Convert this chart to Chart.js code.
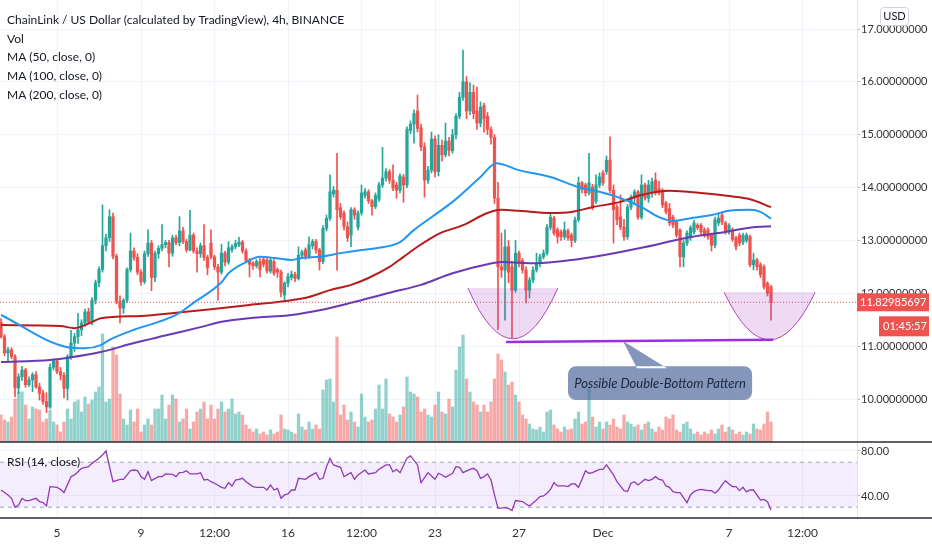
<!DOCTYPE html>
<html>
<head>
<meta charset="utf-8">
<script src="https://cdn.jsdelivr.net/npm/chart.js@4.4.0/dist/chart.umd.min.js"></script>
<style>
  html, body { margin: 0; padding: 0; background: #fff; }
  #wrap { width: 932px; height: 550px; position: relative; }
</style>
</head>
<body>
<div id="wrap"><canvas id="chart"></canvas></div>
<script>
// 4h candles, LINK/USD (index 0 = Nov 2 08:00)
const open = [
  11.45,11.18,10.87,10.93,10.80,10.21,10.42,10.55,10.27,10.36,
  10.46,10.23,10.11,9.95,9.85,10.60,10.72,10.52,10.45,10.20,
  10.80,11.06,11.18,11.31,11.44,11.65,11.46,11.87,12.20,12.45,
  12.90,13.05,13.45,12.70,11.85,11.72,11.87,12.45,12.80,12.68,
  12.40,12.22,12.75,12.95,12.30,12.75,12.85,12.92,12.96,12.76,
  13.05,12.96,13.18,12.98,12.82,13.10,12.80,12.75,12.90,12.68,
  12.95,12.69,12.50,12.40,12.76,12.59,12.82,12.88,12.92,12.97,
  12.80,12.62,12.57,12.52,12.60,12.64,12.63,12.42,12.60,12.45,
  12.40,11.97,12.19,12.30,12.36,12.28,12.72,12.82,12.70,12.90,
  12.98,12.82,12.60,13.23,13.42,13.88,13.95,13.62,13.52,13.26,
  13.10,13.58,13.25,13.52,13.85,13.92,13.75,13.64,13.78,14.05,
  14.18,14.30,14.14,14.05,13.95,14.20,14.05,15.08,15.20,15.45,
  15.13,14.77,14.14,14.33,14.92,14.30,14.80,14.62,14.88,14.70,
  15.00,15.35,15.71,16.00,15.45,15.80,15.45,15.22,15.55,15.35,
  15.10,14.95,13.80,12.50,12.44,12.88,12.50,12.06,12.76,12.62,
  12.44,12.06,12.25,12.44,12.57,12.69,12.76,13.25,13.42,13.20,
  13.16,13.07,13.18,13.10,13.00,13.39,14.09,14.05,13.90,14.01,
  13.74,14.05,14.28,
  14.30,14.52,13.95,13.63,13.45,13.25,13.07,13.63,13.80,13.92,
  13.44,14.05,13.80,13.90,14.14,13.98,13.95,13.71,13.60,13.44,
  13.35,13.20,12.69,12.95,13.05,13.16,13.29,13.29,13.20,13.20,
  13.10,12.91,13.33,13.48,13.33,13.16,13.20,13.05,13.10,12.97,
  13.00,13.07,12.54,12.63,12.54,12.50,12.19,12.12
];
const high = [
  11.52,11.22,10.98,10.97,10.84,10.48,10.62,10.58,10.42,10.50,
  10.52,10.30,10.17,10.12,10.66,10.76,10.75,10.60,10.50,10.84,
  11.30,11.24,11.62,11.50,11.70,11.72,11.92,12.25,12.50,13.67,
  13.12,13.58,13.52,12.74,11.95,11.90,12.48,13.14,12.86,12.75,
  12.45,12.80,13.20,13.00,12.80,12.90,13.30,13.00,13.00,13.10,
  13.10,13.45,13.25,13.02,13.57,13.14,12.86,12.95,13.30,12.72,
  13.20,12.72,12.55,12.93,12.80,12.98,12.92,13.00,13.06,13.00,
  12.84,12.66,12.60,12.64,12.66,12.68,12.66,12.66,12.64,12.48,
  12.44,12.22,12.38,12.42,12.40,12.88,12.82,12.86,13.07,13.02,
  13.02,12.85,13.28,13.48,14.24,14.02,14.65,13.70,13.56,13.35,
  13.62,13.62,13.56,14.05,13.98,13.96,13.78,13.90,14.10,14.76,
  14.36,14.34,14.43,14.10,14.26,14.25,15.15,15.26,15.47,15.75,
  15.20,14.85,14.40,15.05,14.98,15.00,14.90,15.22,14.95,15.10,
  15.40,15.80,16.60,16.10,15.98,15.94,15.90,15.62,15.60,15.42,
  15.15,15.00,14.10,13.14,13.20,13.00,12.60,13.00,12.80,12.66,
  12.50,12.30,12.50,12.76,12.74,12.82,13.30,13.50,13.46,13.24,
  13.20,13.35,13.22,13.14,13.44,14.20,14.12,14.08,14.65,14.06,
  14.24,14.28,14.32,
  14.60,14.96,14.05,13.68,13.86,13.40,13.68,13.86,13.96,13.95,
  14.24,14.08,14.14,14.18,14.28,14.12,13.98,13.74,13.70,13.48,
  13.38,13.22,13.00,13.18,13.28,13.38,13.32,13.32,13.24,13.24,
  13.14,13.44,13.52,13.52,13.36,13.32,13.24,13.08,13.14,13.14,
  13.14,13.10,12.76,12.66,12.58,12.54,12.22,12.15
];
const low = [
  11.15,10.82,10.72,10.76,10.04,10.10,10.35,10.22,10.24,10.14,
  10.20,9.98,9.90,9.74,9.82,10.55,10.48,10.36,10.02,9.98,
  10.75,10.90,11.05,11.20,11.38,11.42,11.40,11.80,12.12,12.40,
  12.80,12.98,12.65,11.80,11.44,11.62,11.82,12.40,12.62,12.35,
  12.15,12.18,12.70,12.05,12.22,12.66,12.80,12.86,12.50,12.70,
  12.92,12.90,12.94,12.78,12.80,12.76,12.40,12.68,12.62,12.35,
  12.65,12.45,11.87,12.36,12.52,12.55,12.78,12.84,12.88,12.76,
  12.58,12.31,12.45,12.48,12.31,12.50,12.38,12.38,12.34,12.30,
  11.93,11.84,12.12,12.25,12.22,12.25,12.66,12.64,12.66,12.84,
  12.76,12.44,12.56,13.18,13.38,13.82,12.44,13.40,13.20,12.98,
  12.88,13.40,13.20,13.48,13.80,13.70,13.48,13.60,13.74,14.00,
  14.12,14.08,13.94,13.80,13.90,13.72,14.00,15.02,14.84,15.05,
  14.70,13.82,14.08,14.28,14.20,14.22,14.50,14.58,14.60,14.65,
  14.92,15.30,15.65,15.30,15.38,15.30,15.10,15.15,15.05,15.00,
  14.82,13.70,11.31,12.30,11.49,12.20,11.15,12.02,12.50,12.38,
  11.82,11.91,12.20,12.40,12.50,12.65,12.72,13.20,13.10,12.95,
  13.00,13.02,13.00,12.88,12.96,13.35,13.90,13.84,13.86,13.58,
  13.70,14.00,14.04,
  14.25,13.90,12.95,13.30,13.20,13.00,13.02,13.58,13.68,13.40,
  13.40,13.76,13.72,13.82,13.86,13.86,13.62,13.50,13.28,13.24,
  13.06,12.50,12.50,12.90,13.00,13.12,13.20,13.12,13.06,13.02,
  12.80,12.86,13.28,13.30,13.12,13.12,12.98,12.82,12.90,12.92,
  12.96,12.50,12.44,12.44,12.30,12.08,11.95,11.49
];
const close = [
  11.18,10.87,10.93,10.80,10.21,10.42,10.55,10.27,10.36,10.46,
  10.23,10.11,9.95,9.85,10.60,10.72,10.52,10.45,10.20,10.80,
  11.06,11.18,11.31,11.44,11.65,11.46,11.87,12.20,12.45,12.90,
  13.05,13.45,12.70,11.85,11.72,11.87,12.45,12.80,12.68,12.40,
  12.22,12.75,12.95,12.30,12.75,12.85,12.92,12.96,12.76,13.05,
  12.96,13.18,12.98,12.82,13.10,12.80,12.75,12.90,12.68,12.48,
  12.69,12.50,12.40,12.76,12.59,12.86,12.88,12.94,12.97,12.80,
  12.62,12.55,12.52,12.60,12.45,12.55,12.42,12.63,12.38,12.40,
  12.02,12.19,12.32,12.36,12.28,12.72,12.78,12.70,12.92,12.98,
  12.82,12.60,13.23,13.42,13.92,13.95,13.58,13.45,13.26,13.05,
  13.58,13.48,13.52,13.90,13.92,13.75,13.64,13.85,14.05,14.18,
  14.30,14.14,13.99,13.95,14.22,14.05,15.10,15.20,15.40,15.12,
  14.77,14.14,14.33,14.92,14.30,14.80,14.62,14.88,14.70,15.00,
  15.35,15.71,16.00,15.45,15.80,15.40,15.22,15.52,15.30,15.10,
  14.95,13.80,12.50,12.44,12.88,12.40,12.06,12.76,12.57,12.44,
  12.06,12.25,12.44,12.57,12.69,12.76,13.25,13.44,13.14,13.07,
  13.07,13.20,13.05,13.00,13.39,14.09,13.96,13.90,14.09,13.63,
  14.05,14.20,14.09,
  14.52,13.95,13.58,13.39,13.25,13.07,13.63,13.82,13.92,13.44,
  14.05,13.80,14.05,14.11,13.90,13.90,13.67,13.54,13.33,13.29,
  13.10,12.69,12.95,13.14,13.24,13.33,13.24,13.16,13.10,13.07,
  12.91,13.39,13.42,13.35,13.16,13.29,13.02,12.88,12.95,13.10,
  13.10,12.54,12.63,12.50,12.35,12.12,12.00,11.82985697
];
// volume, thousands of LINK
const volume = [
  270,220,200,250,430,500,500,370,230,350, 330,320,200,230,320,200,170,100,200,330,
  230,400,420,300,450,380,420,500,550,1080, 400,430,950,870,480,230,170,320,200,330,
  100,170,230,170,330,330,470,230,370,470, 430,200,230,330,130,200,300,330,400,230,
  370,230,330,400,300,330,430,280,300,270, 170,130,100,130,80,100,70,120,80,100,
  270,130,120,100,80,280,150,120,200,130, 170,130,520,620,630,400,1050,270,370,220,
  300,200,150,480,250,200,220,330,570,330, 630,280,250,200,270,350,650,500,480,450,
  300,330,270,250,370,500,300,280,430,350, 720,950,1070,630,500,400,370,300,370,300,
  400,630,880,820,700,570,600,470,400,270, 230,180,130,120,150,100,300,320,170,130,
  100,150,120,130,230,300,180,200,550,250, 150,200,130,
  200,170,230,150,130,270,200,180,150,170, 120,180,200,130,100,150,120,250,230,270,
  120,100,180,200,130,80,100,70,100,80, 120,80,130,170,100,150,120,80,100,70,
  100,80,180,130,120,180,300,200
];

// moving averages (candle index, price)
const ma50Idx = [0,19,24,28.5,31,38,45,50,55,63,65,70,74,78,83,86,91,97,103,108,114,118,123,129,137,141.5,148,157,165,171,177,183,188,192,197,203,208,214,217,220];
const ma50 = [11.59,10.98,10.96,11.02,11.12,11.31,11.46,11.59,11.82,12.21,12.38,12.59,12.69,12.67,12.63,12.67,12.69,12.76,12.82,12.86,12.97,13.20,13.44,13.73,14.20,14.46,14.33,14.20,14.01,13.92,13.80,13.63,13.44,13.37,13.42,13.48,13.56,13.58,13.54,13.41];
const ma100Idx = [0,17,21,25.5,28.5,40,50,60,71,83,88,94,100,105,111,115,119,123,125.5,132,139,143,148,157,163,169,177,183,191,200,208,214,220];
const ma100 = [11.40,11.38,11.34,11.44,11.53,11.57,11.63,11.70,11.78,11.87,11.93,12.06,12.16,12.29,12.50,12.69,12.88,13.05,13.14,13.29,13.52,13.58,13.56,13.52,13.54,13.63,13.73,13.86,13.94,13.90,13.84,13.78,13.63];
const ma200Idx = [0,14,20,28.5,38,47.5,57,63,71,83,91,100,111,120,129,139,143,153,163,172,183,196,205,215,220];
const ma200 = [10.70,10.74,10.79,10.89,11.06,11.21,11.36,11.46,11.53,11.59,11.68,11.82,12.01,12.16,12.38,12.55,12.59,12.57,12.63,12.72,12.86,13.05,13.14,13.25,13.27];

// RSI (14)
const rsiIdx = [0,2,3,4,5,6,7,8,10,11,12,13,14,16,17,18,20,21,22,23,25,26,28,29,30,31,32,34,35,37,38,39,40,41,42,43,45,46,47,49,50,51,52,53,54,56,57,58,59,60,61,63,64,65,66,67,68,69,70,72,73,75,76,77,78,79,80,81,82,83,84,85,87,88,90,91,92,93,94,95,97,98,100,101,102,104,105,107,108,110,111,112,113,114,116,117,119,120,122,
  124,125,126,127,129,130,131,132,134,135,136,137,138,139,140,141,142,144,145,146,147,149,150,151,153,154,155,156,157,158,159,161,162,163,164,165,166,167,168,169,171,172,173,174,175,176,178,179,180,181,182,184,185,186,187,188,189,190,191,192,193,194,196,197,198,199,200,202,203,204,205,206,207,208,209,210,211,212,213,214,215,217,218,219,220];
const rsi = [45.3,40.9,37.9,29.9,32.0,37.9,35.9,35.9,37.9,35.0,34.1,31.1,48.3,47.7,45.9,43.0,57.2,58.7,61.6,64.6,66.1,69.0,73.5,76.4,80.0,66.1,52.7,54.8,54.8,62.5,63.1,62.5,57.2,54.8,61.6,53.6,57.2,57.2,59.6,59.3,57.2,60.7,61.0,62.5,59.6,59.6,60.7,54.2,54.8,52.7,51.3,47.7,46.8,51.9,48.9,54.2,54.8,55.7,52.7,48.3,47.7,47.7,45.3,49.8,45.3,46.8,37.9,40.9,41.8,45.3,45.3,55.7,54.8,57.2,60.7,54.8,55.7,66.1,73.5,67.6,65.5,57.2,60.7,54.8,58.7,63.1,59.6,60.7,63.7,67.6,67.6,61.6,63.7,60.7,73.5,75.6,67.6,51.9,60.7,
  54.8,60.2,58.7,56.6,60.2,66.1,65.5,60.7,63.7,64.6,62.5,55.7,57.2,59.6,54.2,40.9,29.0,29.6,29.0,27.0,35.9,35.0,32.9,31.1,36.4,39.4,40.0,42.4,45.9,51.9,48.9,48.9,48.3,50.7,50.7,47.7,54.8,62.5,60.2,60.7,63.7,63.7,67.6,63.1,58.7,52.7,44.7,43.9,51.3,52.7,49.8,54.8,53.6,54.8,57.2,54.8,54.2,48.9,47.7,43.9,43.0,43.0,34.1,40.9,43.9,45.3,45.9,44.7,44.7,42.4,45.3,49.8,53.6,50.7,48.3,48.3,44.7,47.7,43.6,45.3,45.3,36.4,37.0,34.9,27.6];

const priceTicks = [10, 11, 12, 13, 14, 15, 16, 17];
const rsiTicks = [40, 80];
const rsiBand = [30, 70];
const timeTickIdx = [16, 40, 61, 82, 103, 124, 148, 172, 208, 229];
const timeTickLabels = ['5', '9', '12:00', '16', '12:00', '23', '27', 'Dec', '7', '12:00'];

const legendLines = ['ChainLink / US Dollar (calculated by TradingView), 4h, BINANCE', 'Vol', 'MA (50, close, 0)', 'MA (100, close, 0)', 'MA (200, close, 0)'];

// drawings, in (candle index, price)
const bowls = [
  { from: 133.4, mid: 146.3, to: 159.1, top: 12.10, bottom: 11.14 },
  { from: 206.6, mid: 219.6, to: 232.6, top: 12.02, bottom: 11.12 }
];
const support = { from: [144.3, 11.08], to: [220.6, 11.12] };
const note = { text: 'Possible Double-Bottom Pattern', from: 162.0, to: 214.6, top: 10.62, bottom: 9.98, tip: [177.7, 11.10], base: [181.7, 190.3] };

const UP = '#26a69a', DOWN = '#ef5350';
const isUp = close.map((c, i) => c >= open[i]);
const candleColor = isUp.map(u => u ? UP : DOWN);
const volColor = isUp.map(u => u ? 'rgba(38,166,154,0.5)' : 'rgba(239,83,80,0.5)');
const pts = (xs, ys) => xs.map((x, k) => ({ x: x, y: ys[k] }));

Chart.defaults.font.family = 'Lato, "Open Sans", sans-serif';

const overlay = {
  id: 'overlay',
  beforeDatasetsDraw(chart) {
    const { ctx, chartArea: a, scales: { yRsi } } = chart;
    const t = yRsi.getPixelForValue(rsiBand[1]), b = yRsi.getPixelForValue(rsiBand[0]);
    ctx.save();
    ctx.fillStyle = 'rgba(149,76,233,0.1)';
    ctx.fillRect(a.left, t, a.right - a.left, b - t);
    ctx.setLineDash([4, 4]);
    ctx.strokeStyle = '#a3a6af';
    ctx.lineWidth = 1;
    [t, b].forEach(y => {
      ctx.beginPath(); ctx.moveTo(a.left, y); ctx.lineTo(a.right, y); ctx.stroke();
    });
    ctx.restore();
  },
  afterDraw(chart) {
    const { ctx, chartArea: a, scales: { x, y } } = chart;
    const px = v => x.getPixelForValue(v), py = v => y.getPixelForValue(v);
    ctx.save();

    // pane borders
    ctx.strokeStyle = '#2a2e39';
    ctx.lineWidth = 1.5;
    [y.bottom, a.bottom].forEach(v => {
      ctx.beginPath(); ctx.moveTo(0, v); ctx.lineTo(chart.width, v); ctx.stroke();
    });

    // last price line
    const last = close[close.length - 1];
    const ly = py(last);
    ctx.setLineDash([1, 2]);
    ctx.strokeStyle = DOWN;
    ctx.lineWidth = 1;
    ctx.beginPath(); ctx.moveTo(a.left, ly); ctx.lineTo(a.right, ly); ctx.stroke();
    ctx.setLineDash([]);

    // bowls
    bowls.forEach(b => {
      const t = py(b.top), btm = py(b.bottom);
      ctx.beginPath();
      ctx.moveTo(px(b.from), t);
      ctx.quadraticCurveTo(px(b.mid), 2 * btm - t, px(b.to), t);
      ctx.fillStyle = 'rgba(171,71,188,0.2)';
      ctx.fill();
      ctx.strokeStyle = '#ab47bc';
      ctx.lineWidth = 1;
      ctx.stroke();
    });

    // support line
    ctx.strokeStyle = '#9d2ee0';
    ctx.lineWidth = 2.5;
    ctx.beginPath();
    ctx.moveTo(px(support.from[0]), py(support.from[1]));
    ctx.lineTo(px(support.to[0]), py(support.to[1]));
    ctx.stroke();

    // callout
    const bx0 = px(note.from), bx1 = px(note.to), by0 = py(note.top), by1 = py(note.bottom);
    ctx.beginPath();
    ctx.moveTo(px(note.tip[0]), py(note.tip[1]));
    ctx.lineTo(px(note.base[0]), by0 + 2);
    ctx.lineTo(px(note.base[1]), by0 + 2);
    ctx.closePath();
    ctx.roundRect(bx0, by0, bx1 - bx0, by1 - by0, 8);
    ctx.fillStyle = 'rgba(84,110,160,0.72)';
    ctx.fill();
    ctx.font = 'italic 13px Lato';
    ctx.fillStyle = '#1b2640';
    ctx.textAlign = 'center';
    ctx.textBaseline = 'middle';
    ctx.fillText(note.text, (bx0 + bx1) / 2, (by0 + by1) / 2 + 1);

    // legend
    ctx.textAlign = 'left';
    ctx.fillStyle = '#131722';
    ctx.font = '12px Lato';
    legendLines.forEach((s, k) => ctx.fillText(s, 7, a.top + 20 + k * 18.75));
    ctx.fillText('RSI (14, close)', 7, y.bottom + 20);

    // price axis labels
    ctx.fillStyle = DOWN;
    ctx.fillRect(a.right, ly - 9, 72, 18);
    ctx.fillRect(a.right + 22, ly + 14, 50, 20);
    ctx.fillStyle = '#ffffff';
    ctx.font = '11px Lato';
    ctx.fillText(last.toFixed(8), a.right + 3, ly);
    ctx.fillText('01:45:57', a.right + 26, ly + 24);

    // currency badge
    ctx.strokeStyle = '#d1d4dc';
    ctx.lineWidth = 1;
    ctx.fillStyle = '#ffffff';
    ctx.beginPath();
    ctx.roundRect(880.5, 7.5, 28, 18, 3);
    ctx.fill();
    ctx.stroke();
    ctx.fillStyle = '#131722';
    ctx.font = '11px Lato';
    ctx.textAlign = 'center';
    ctx.fillText('USD', 894.5, 16.5);
    ctx.restore();
  }
};

const tickFont = { size: 11 };
new Chart('chart', {
  type: 'bar',
  data: {
    datasets: [
      { type: 'line', label: 'MA 50', data: pts(ma50Idx, ma50), borderColor: '#2196f3', borderWidth: 2, pointRadius: 0, cubicInterpolationMode: 'monotone', yAxisID: 'y', order: 1 },
      { type: 'line', label: 'MA 100', data: pts(ma100Idx, ma100), borderColor: '#b71c1c', borderWidth: 2, pointRadius: 0, cubicInterpolationMode: 'monotone', yAxisID: 'y', order: 1 },
      { type: 'line', label: 'MA 200', data: pts(ma200Idx, ma200), borderColor: '#673ab7', borderWidth: 2, pointRadius: 0, cubicInterpolationMode: 'monotone', yAxisID: 'y', order: 1 },
      { label: 'wick', data: close.map((c, i) => ({ x: i, y: [low[i], high[i]] })), backgroundColor: candleColor, barThickness: 1, grouped: false, yAxisID: 'y', order: 3 },
      { label: 'body', data: close.map((c, i) => ({ x: i, y: [open[i], c] })), backgroundColor: candleColor, barThickness: 2.6, minBarLength: 1, grouped: false, yAxisID: 'y', order: 2 },
      { label: 'Vol', data: volume.map((v, i) => ({ x: i, y: v })), backgroundColor: volColor, barThickness: 2.6, grouped: false, yAxisID: 'yVol', order: 5 },
      { type: 'line', label: 'RSI', data: pts(rsiIdx, rsi), borderColor: '#9339b5', borderWidth: 1.3, pointRadius: 0, tension: 0, yAxisID: 'yRsi', order: 1 }
    ]
  },
  options: {
    responsive: true,
    maintainAspectRatio: false,
    animation: false,
    events: [],
    layout: { padding: 0, autoPadding: false },
    plugins: { legend: { display: false }, tooltip: { enabled: false } },
    scales: {
      x: {
        type: 'linear', min: -0.286, max: 244.57, offset: false,
        grid: { color: '#f0f3fa', drawTicks: false, offset: false },
        border: { display: false },
        afterBuildTicks: s => { s.ticks = timeTickIdx.map(v => ({ value: v })); },
        afterFit: s => { s.height = 32; s.paddingLeft = 0; s.paddingRight = 0; },
        ticks: { autoSkip: false, maxRotation: 0, padding: 8, color: '#333', font: { size: 12 },
          callback: v => timeTickLabels[timeTickIdx.indexOf(v)] }
      },
      y: {
        position: 'right', stack: 'pane', stackWeight: 442, min: 9.187, max: 17.549,
        grid: { color: '#f0f3fa', tickLength: 3, tickColor: '#b2b5be' },
        border: { color: '#e0e3eb' },
        afterBuildTicks: s => { s.ticks = priceTicks.map(v => ({ value: v })); },
        afterFit: s => { s.width = 75; s.paddingTop = 0; s.paddingBottom = 0; },
        ticks: { padding: 1, color: '#333', font: tickFont, callback: v => v.toFixed(8) }
      },
      yRsi: {
        position: 'right', stack: 'pane', stackWeight: 76, min: 20.4, max: 88,
        grid: { color: '#f0f3fa', tickLength: 3, tickColor: '#b2b5be' },
        border: { color: '#e0e3eb' },
        afterBuildTicks: s => { s.ticks = rsiTicks.map(v => ({ value: v })); },
        afterFit: s => { s.width = 75; s.paddingTop = 0; s.paddingBottom = 0; },
        ticks: { padding: 1, color: '#333', font: tickFont, callback: v => v.toFixed(2) }
      },
      yVol: { display: false, min: -760, max: 4420 }
    }
  },
  plugins: [overlay]
});
</script>
</body>
</html>
